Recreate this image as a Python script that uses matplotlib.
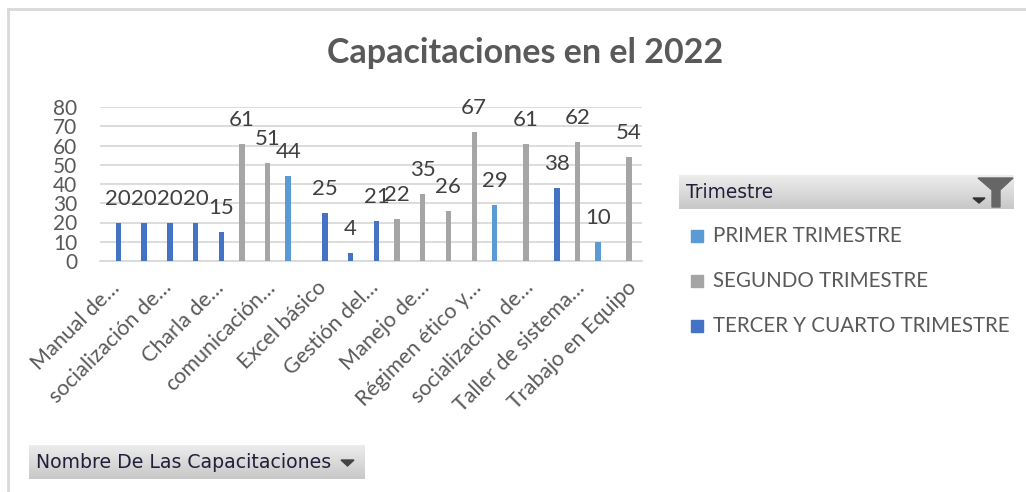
import numpy as np
import matplotlib
matplotlib.use("Agg")
import matplotlib.pyplot as plt
from matplotlib.patches import Rectangle, Polygon
from matplotlib.lines import Line2D
from matplotlib.transforms import ScaledTranslation

# datos (21 capacitaciones, solo se ven las etiquetas pares como en Excel)
nan = np.nan
primer = [nan, nan, nan, nan, nan, nan, nan, 44, nan, nan, nan,
          nan, nan, nan, nan, 29, nan, nan, nan, 10, nan]
segundo = [nan, nan, nan, nan, nan, 61, 51, nan, nan, nan, nan,
           22, 35, 26, 67, nan, 61, nan, 62, nan, 54]
tercer = [20, 20, 20, 20, 15, nan, nan, nan, 25, 4, 21,
          nan, nan, nan, nan, nan, nan, 38, nan, nan, nan]
etiquetas = ["Manual de…", "socialización de…", "Charla de…", "comunicación…",
             "Excel básico", "Gestión del…", "Manejo de…", "Régimen ético y…",
             "socialización de…", "Taller de sistema…", "Trabajo en Equipo"]
series = ["PRIMER TRIMESTRE", "SEGUNDO TRIMESTRE", "TERCER Y CUARTO TRIMESTRE"]
colores = ["#5B9BD5", "#A5A5A5", "#4472C4"]

W, H = 1026, 492
plt.rcParams["font.family"] = ["Lato", "DejaVu Sans"]
fig = plt.figure(figsize=(W / 100, H / 100), dpi=100)

def fx(px): return px / W
def fy(py): return 1 - py / H

ax = fig.add_axes([fx(100), fy(261), fx(642) - fx(100), fy(107) - fy(261)])
x = np.arange(len(primer))
ancho = 0.21
for vals, off, c in zip([primer, segundo, tercer], [-ancho, 0, ancho], colores):
    ax.bar(x + off, vals, width=ancho, color=c, zorder=3)
    for xi, v in zip(x, vals):
        if not np.isnan(v):
            ax.annotate(f"{v:.0f}", (xi + off, v), xytext=(0, 10), textcoords="offset points",
                        ha="center", va="bottom", fontsize=16, color="#404040")

ax.set_xlim(-0.5, len(primer) - 0.5)
ax.set_ylim(0, 80)
ax.set_yticks(range(0, 81, 10))
ax.yaxis.grid(True, color="#D9D9D9", lw=1.3, zorder=0)
for s in ["top", "right", "left"]:
    ax.spines[s].set_visible(False)
ax.spines["bottom"].set_color("#D9D9D9")
ax.spines["bottom"].set_linewidth(1.3)
ax.tick_params(axis="both", length=0, colors="#595959", labelsize=15)
ax.tick_params(axis="y", pad=16.5)
ax.set_xticks(x[::2])
ax.set_xticklabels(etiquetas, rotation=45, ha="right", rotation_mode="anchor", va="center",
                   fontsize=15.5)
ax.tick_params(axis="x", pad=17)
desplaza = ScaledTranslation(4 / 100, 0, fig.dpi_scale_trans)
for t in ax.get_xticklabels():
    t.set_transform(t.get_transform() + desplaza)

fig.text(fx(525), fy(53), "Capacitaciones en el 2022", ha="center", va="center",
         fontsize=24.5, fontweight="bold", color="#595959")

# leyenda
for i, (nom, c) in enumerate(zip(series, colores)):
    yy = [236, 281, 326][i]
    fig.patches.append(Rectangle((fx(691), fy(yy + 6)), fx(12), 12 / H, color=c,
                                 transform=fig.transFigure))
    fig.text(fx(713), fy(yy), nom, ha="left", va="center", fontsize=14.8, color="#595959")

# botones de la tabla dinamica
def boton(x0, y0, x1, y1, texto, tfs):
    bx = fig.add_axes([fx(x0), fy(y1), fx(x1) - fx(x0), fy(y0) - fy(y1)])
    grad = np.linspace(0, 1, 50).reshape(-1, 1)
    bx.imshow(grad, aspect="auto", cmap=matplotlib.colors.LinearSegmentedColormap.from_list(
        "g", ["#EDEDED", "#C8C8C8"]), extent=[0, 1, 0, 1], origin="upper")
    bx.set_xlim(0, 1); bx.set_ylim(0, 1)
    bx.axis("off")
    bx.text(0.02, 0.5, texto, ha="left", va="center", fontsize=tfs, color="#20203A",
            family="DejaVu Sans")
    return bx

b1 = boton(679, 175, 1014, 209, "Trimestre", 13.4)
pw = 1014 - 679
def px2b(px, py): return ((px - 679) / pw, 1 - (py - 175) / 34)
b1.add_patch(Polygon([px2b(978, 178), px2b(1013, 178), px2b(1000, 190), px2b(1000, 207),
                      px2b(992, 207), px2b(992, 190)], color="#666666"))
b1.add_patch(Polygon([px2b(973, 198), px2b(985, 198), px2b(979, 203)], color="#333333"))

b2 = boton(29, 445, 365, 479, "Nombre De Las Capacitaciones", 13.6)
pw2 = 365 - 29
b2.add_patch(Polygon([((341 - 29) / pw2, 1 - (460 - 445) / 34), ((354 - 29) / pw2, 1 - (460 - 445) / 34),
                      ((347.5 - 29) / pw2, 1 - (466 - 445) / 34)], color="#444444"))

# borde del grafico
fig.lines.append(Line2D([fx(8), fx(8)], [fy(9), 0], color="#D9D9D9", lw=2, transform=fig.transFigure))
fig.lines.append(Line2D([fx(8), 1], [fy(9), fy(9)], color="#D9D9D9", lw=2, transform=fig.transFigure))

fig.savefig("out.png", dpi=100)
